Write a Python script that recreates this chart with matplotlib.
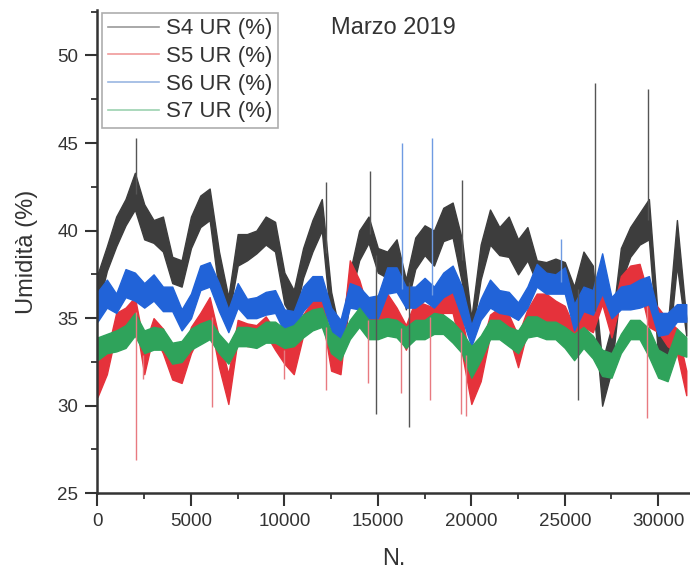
import matplotlib.pyplot as plt
from matplotlib.lines import Line2D
import numpy as np

plt.rcParams['font.family'] = ['Liberation Sans', 'DejaVu Sans']

# letture raggruppate ogni 500 campioni: minimo e massimo della banda
n = np.arange(0, 32000, 500)

s4_lo = [35.5, 37.7, 39.1, 40.3, 41.2, 39.5, 39.3, 38.8, 37.0, 36.8,
         39.0, 40.2, 40.6, 36.5, 35.0, 38.0, 38.3, 38.7, 39.2, 38.8,
         35.8, 34.9, 37.3, 38.8, 40.0, 34.5, 32.3, 36.0, 38.3, 39.3,
         37.6, 37.3, 37.8, 35.5, 37.8, 38.6, 38.0, 39.4, 39.6, 37.0,
         33.8, 37.2, 39.2, 38.6, 38.5, 37.5, 38.3, 37.0, 37.0, 37.2,
         36.8, 35.0, 36.8, 36.0, 30.0, 32.0, 37.0, 38.5, 39.2, 39.5,
         32.8, 32.6, 38.0, 34.0]
s4_hi = [37.5, 39.1, 40.8, 41.8, 43.3, 41.5, 40.6, 40.8, 38.5, 38.3,
         40.8, 42.0, 42.4, 38.8, 36.2, 39.8, 39.8, 40.0, 40.8, 40.5,
         37.6, 36.6, 39.0, 40.6, 41.8, 36.5, 34.0, 37.6, 40.0, 40.8,
         39.0, 38.8, 39.5, 37.2, 39.6, 40.3, 40.0, 41.3, 41.6, 39.5,
         35.0, 39.2, 41.2, 40.2, 40.8, 39.5, 40.2, 38.3, 38.2, 38.4,
         38.2, 36.8, 38.8, 38.0, 32.5, 34.5, 39.0, 40.2, 41.0, 41.8,
         34.8, 34.5, 40.6, 35.0]

s5_lo = [30.5, 31.8, 34.2, 34.5, 35.1, 31.8, 34.1, 33.0, 31.5, 31.3,
         33.0, 34.1, 34.9, 32.2, 30.1, 33.8, 33.4, 33.4, 34.1, 33.2,
         32.4, 31.8, 34.0, 34.8, 35.2, 32.0, 31.8, 36.6, 35.8, 34.0,
         34.5, 34.9, 34.3, 33.2, 34.5, 34.6, 34.3, 35.3, 35.3, 33.0,
         30.1, 31.4, 34.0, 34.4, 34.0, 32.2, 34.3, 35.1, 34.6, 34.4,
         34.0, 33.2, 34.5, 34.2, 35.8, 33.9, 36.0, 36.6, 36.8, 34.5,
         34.2, 33.4, 33.0, 30.6]
s5_hi = [33.0, 33.0, 35.3, 35.6, 36.2, 33.4, 35.0, 34.4, 33.0, 32.8,
         34.5, 35.3, 36.2, 33.9, 31.8, 34.9, 34.7, 34.6, 35.1, 34.3,
         34.0, 33.4, 35.2, 36.0, 36.4, 33.6, 33.2, 38.3, 37.2, 35.4,
         35.9, 36.4, 35.6, 34.6, 36.0, 35.8, 35.6, 36.8, 36.8, 35.0,
         32.3, 33.2, 35.2, 35.6, 35.2, 34.0, 35.5, 36.4, 36.4, 36.0,
         35.7, 34.5, 35.6, 35.4, 37.2, 35.1, 37.4, 38.0, 38.1, 36.2,
         35.6, 34.9, 34.4, 32.0]

s6_lo = [34.8, 35.6, 35.3, 36.2, 36.0, 35.6, 36.0, 35.4, 35.4, 34.3,
         35.0, 36.6, 36.8, 35.4, 34.2, 35.6, 35.0, 35.0, 35.2, 35.3,
         34.2, 34.3, 35.4, 36.0, 36.0, 34.3, 33.6, 35.6, 35.5, 35.0,
         35.0, 36.4, 36.5, 35.6, 35.6, 36.0, 35.6, 36.2, 36.5, 35.0,
         33.4, 34.9, 35.6, 35.3, 35.2, 34.9, 35.6, 36.8, 36.4, 36.4,
         36.4, 34.3, 35.4, 35.2, 36.4, 35.0, 35.5, 35.5, 35.6, 35.8,
         34.0, 34.1, 34.8, 34.8]
s6_hi = [36.5, 37.2, 36.4, 37.8, 37.6, 37.0, 37.5, 36.8, 36.8, 35.5,
         36.4, 38.0, 38.2, 37.0, 35.5, 37.0, 36.1, 36.2, 36.5, 36.6,
         35.5, 35.4, 36.8, 37.4, 37.4, 35.6, 34.9, 37.0, 36.8, 36.2,
         36.3, 37.9, 37.9, 36.8, 36.8, 37.3, 36.8, 37.6, 38.0, 36.8,
         34.6, 36.1, 37.2, 36.6, 36.5, 35.9, 36.8, 38.1, 37.6, 37.5,
         37.9, 35.8, 36.8, 36.6, 38.7, 36.2, 36.8, 36.9, 37.2, 37.4,
         35.3, 35.3, 35.8, 35.8]

s7_lo = [32.6, 33.0, 33.1, 33.3, 34.0, 33.0, 33.2, 33.2, 32.4, 32.5,
         33.2, 33.5, 33.8, 33.0, 32.4, 33.4, 33.4, 33.3, 33.6, 33.6,
         33.3, 33.4, 33.9, 34.3, 34.5, 33.0, 32.6, 33.8, 34.5, 33.8,
         33.8, 34.0, 33.9, 33.3, 33.8, 33.8, 34.1, 34.1, 33.6, 33.0,
         31.6, 32.6, 33.8, 33.8, 33.4, 33.0, 33.9, 34.0, 33.8, 33.8,
         33.3, 32.6, 33.3, 32.7, 31.7, 31.6, 33.0, 33.8, 33.8, 32.8,
         31.6, 31.4, 33.0, 32.8]
s7_hi = [33.9, 34.1, 34.3, 34.6, 35.3, 34.3, 34.5, 34.4, 33.6, 33.7,
         34.4, 34.7, 34.9, 34.1, 33.5, 34.5, 34.5, 34.4, 34.8, 34.8,
         34.4, 34.6, 35.2, 35.5, 35.6, 34.2, 33.8, 34.9, 35.6, 34.9,
         34.9, 35.0, 34.9, 34.5, 34.9, 34.9, 35.3, 35.2, 34.8, 34.2,
         33.4, 34.0, 34.9, 34.9, 34.5, 34.3, 35.1, 35.1, 34.8, 34.8,
         34.5, 34.1, 34.5, 34.0, 33.2, 33.0, 34.1, 34.9, 34.9, 34.4,
         33.2, 32.9, 34.4, 33.9]

# picchi isolati (campione, valore)
s4_picchi_n = [2050, 12200, 14570, 19480, 26640, 29470, 14920, 16650, 25700]
s4_picchi_v = [45.3, 42.8, 43.4, 42.9, 48.4, 48.1, 29.5, 28.8, 30.3]
s5_picchi_n = [2050, 2450, 6100, 10000, 12220, 14450, 16250, 17780, 19450, 19700, 29420]
s5_picchi_v = [26.9, 31.5, 29.9, 31.5, 30.9, 31.3, 30.7, 30.3, 29.5, 29.4, 29.3]
s6_picchi_n = [16270, 17870, 24790]
s6_picchi_v = [45.0, 45.3, 39.5]
s7_picchi_n = []
s7_picchi_v = []

serie = [
    ("S4 UR (%)", s4_lo, s4_hi, s4_picchi_n, s4_picchi_v, "#3d3d3d", "#555555", "#9a9a9a"),
    ("S5 UR (%)", s5_lo, s5_hi, s5_picchi_n, s5_picchi_v, "#e5323b", "#e87a80", "#f09a9a"),
    ("S6 UR (%)", s6_lo, s6_hi, s6_picchi_n, s6_picchi_v, "#2163d8", "#6f9be2", "#9ab6e2"),
    ("S7 UR (%)", s7_lo, s7_hi, s7_picchi_n, s7_picchi_v, "#2fa35b", "#5fba82", "#9cd2b0"),
]

fig = plt.figure(figsize=(6.9, 5.7), dpi=100)
ax = fig.add_axes([0.1413, 0.1346, 0.8587, 0.848])

handles = []
for nome, lo, hi, pn, pv, col, col_picco, col_leg in serie:
    lo = np.array(lo)
    hi = np.array(hi)
    ax.fill_between(n, lo, hi, color=col, lw=1.0, edgecolor=col)
    if pn:
        base = np.interp(pn, n, (lo + hi) / 2)
        ax.vlines(pn, base, pv, color=col_picco, lw=1.0)
    handles.append(Line2D([], [], color=col_leg, lw=1.2, label=nome))

ax.set_xlim(0, 31700)
ax.set_ylim(25, 52.6)
ax.set_xticks([0, 5000, 10000, 15000, 20000, 25000, 30000])
ax.set_xticks(np.arange(2500, 31700, 5000), minor=True)
ax.set_yticks([25, 30, 35, 40, 45, 50])
ax.set_yticks(np.arange(27.5, 53, 5), minor=True)

for lato in ["top", "right"]:
    ax.spines[lato].set_visible(False)
for lato in ["left", "bottom"]:
    ax.spines[lato].set_linewidth(1.8)
    ax.spines[lato].set_color("#333333")

ax.tick_params(which="major", direction="out", length=9, width=1.5,
               colors="#333333", labelsize=13.5, pad=5)
ax.tick_params(which="minor", direction="out", length=4, width=1.3, colors="#333333")

ax.set_xlabel("N.", fontsize=17, color="#333333", labelpad=13)
ax.set_ylabel("Umidità (%)", fontsize=17, color="#333333", labelpad=14)

ax.text(0.499, 0.962, "Marzo 2019", transform=ax.transAxes, ha="center",
        va="center", fontsize=17, color="#333333")

leg = ax.legend(handles=handles, loc="upper left", bbox_to_anchor=(0.0076, 0.994),
                borderaxespad=0, fontsize=16, frameon=True, fancybox=False,
                handlelength=2.3, handletextpad=0.35, labelspacing=0.3,
                borderpad=0.25)
leg.get_frame().set_edgecolor("#999999")
leg.get_frame().set_linewidth(1.2)
for t in leg.get_texts():
    t.set_color("#333333")

fig.savefig("out.png", dpi=100)
